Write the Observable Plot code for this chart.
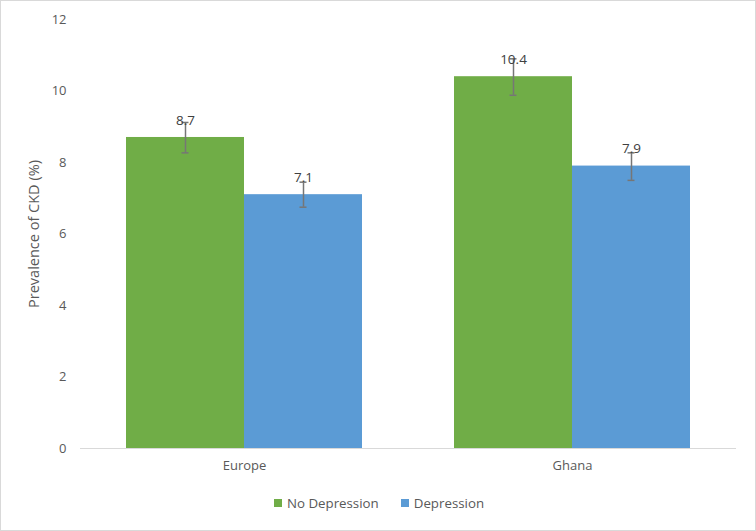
<!DOCTYPE html>
<html>
<head>
<meta charset="utf-8">
<script src="https://cdn.jsdelivr.net/npm/d3@7"></script>
<script src="https://cdn.jsdelivr.net/npm/@observablehq/plot@0.6"></script>
<style>
  html, body { margin: 0; padding: 0; background: #fff; }
  #wrap { position: relative; width: 756px; height: 531px; font-family: "Open Sans", sans-serif; }
  #frame { position: absolute; left: 0; top: 0; width: 756px; height: 531px; box-sizing: border-box; border: 1px solid #d9d9d9; pointer-events: none; }
  #legend { display: flex; justify-content: center; gap: 22px; font-size: 13.3px; color: #595959; padding-top: 12px; padding-left: 2px; }
  .item { display: flex; align-items: center; gap: 5px; }
  .sw { width: 8px; height: 8px; display: inline-block; }
</style>
</head>
<body>
<div id="wrap"><div id="chart"></div><div id="legend"></div><div id="frame"></div></div>
<script>
const regions = ["Europe", "Ghana"];
const groups = ["No Depression", "Depression"];
const colors = ["#70ad47", "#5b9bd5"];
const noDepression = [8.7, 10.4];
const depression = [7.1, 7.9];
const noDepressionLow = [8.27, 9.88];
const noDepressionHigh = [9.12, 10.9];
const depressionLow = [6.75, 7.5];
const depressionHigh = [7.45, 8.27];
const yTicks = [0, 2, 4, 6, 8, 10, 12];

const rows = [];
regions.forEach((r, i) => {
  rows.push({region: r, group: groups[0], value: noDepression[i], lo: noDepressionLow[i], hi: noDepressionHigh[i]});
  rows.push({region: r, group: groups[1], value: depression[i], lo: depressionLow[i], hi: depressionHigh[i]});
});

const font = "Open Sans, sans-serif";
const chart = Plot.plot({
  width: 756,
  height: 482,
  marginLeft: 80,
  marginRight: 20,
  marginTop: 19,
  marginBottom: 34,
  style: {fontFamily: font, fontSize: "13px", color: "#595959", background: "transparent"},
  fx: {domain: regions, padding: 0, label: null, axis: null},
  x: {domain: groups, paddingInner: 0, paddingOuter: 0.385, axis: null},
  y: {domain: [0, 12], axis: null},
  color: {domain: groups, range: colors},
  marks: [
    Plot.barY(rows, {fx: "region", x: "group", y: "value", fill: "group"}),
    Plot.ruleY([0], {stroke: "#d9d9d9", strokeWidth: 1}),
    Plot.ruleX(rows, {fx: "region", x: "group", y1: "lo", y2: "hi", stroke: "#767676", strokeWidth: 1.5}),
    Plot.tickY(rows, {fx: "region", x: "group", y: "lo", stroke: "#767676", strokeWidth: 1.5, insetLeft: 55.5, insetRight: 55.5}),
    Plot.tickY(rows, {fx: "region", x: "group", y: "hi", stroke: "#767676", strokeWidth: 1.5, insetLeft: 55.5, insetRight: 55.5}),
    Plot.text(rows, {fx: "region", x: "group", y: "value", text: d => d.value.toFixed(1), dy: -17, fill: "#404040", fontSize: 13.5}),
    Plot.axisY(yTicks, {tickSize: 0, tickPadding: 14, label: "Prevalence of CKD (%)", labelAnchor: "center", labelArrow: "none", labelOffset: 52, fill: "#595959", fontSize: 13}),
    Plot.axisFx({anchor: "bottom", tickSize: 0, tickPadding: 12, label: null, fill: "#595959", fontSize: 13})
  ]
});
// enlarge the y-axis title
chart.querySelectorAll("text").forEach(t => {
  if (t.textContent === "Prevalence of CKD (%)") t.setAttribute("font-size", "14.5");
});
document.getElementById("chart").appendChild(chart);

const legend = document.getElementById("legend");
groups.forEach((g, i) => {
  const it = document.createElement("span");
  it.className = "item";
  const sw = document.createElement("span");
  sw.className = "sw";
  sw.style.background = colors[i];
  it.appendChild(sw);
  it.appendChild(document.createTextNode(g));
  legend.appendChild(it);
});
</script>
</body>
</html>
